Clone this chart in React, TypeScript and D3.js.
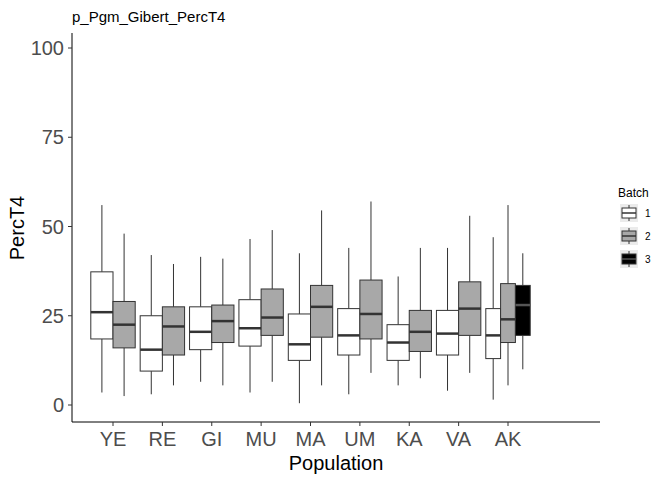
import React from "react";
import * as d3 from "d3";

const populations = ["YE", "RE", "GI", "MU", "MA", "UM", "KA", "VA", "AK"];
const batches = ["1", "2", "3"];
// [population, batch, lowWhisker, q1, median, q3, highWhisker]
const stats: [string, string, number, number, number, number, number][] = [
  ["YE", "1", 3.5, 18.5, 26, 37.3, 56],
  ["YE", "2", 2.5, 16, 22.5, 29, 48],
  ["RE", "1", 3, 9.5, 15.5, 25, 42],
  ["RE", "2", 5.5, 14, 22, 27.5, 39.5],
  ["GI", "1", 6.5, 15.5, 20.5, 27.5, 41.5],
  ["GI", "2", 5.5, 17.5, 23.5, 28, 41],
  ["MU", "1", 3.5, 16.5, 21.5, 29.5, 46.5],
  ["MU", "2", 6.5, 19.5, 24.5, 32.5, 49],
  ["MA", "1", 0.5, 12.5, 17, 25.5, 42.5],
  ["MA", "2", 5.5, 19, 27.5, 33.5, 54.5],
  ["UM", "1", 3, 14, 19.5, 27, 44],
  ["UM", "2", 9, 18.5, 25.5, 35, 57],
  ["KA", "1", 5.5, 12.5, 17.5, 22.5, 36],
  ["KA", "2", 7.5, 15, 20.5, 26.5, 44],
  ["VA", "1", 4, 14, 20, 26.5, 44],
  ["VA", "2", 9, 19.5, 27, 34.5, 53],
  ["AK", "1", 1.5, 13, 19.5, 27, 47],
  ["AK", "2", 5.5, 17.5, 24, 34, 56],
  ["AK", "3", 10, 19.5, 28, 33.5, 42.5],
];
const yTicks = [0, 25, 50, 75, 100];
const fills: Record<string, string> = { "1": "#ffffff", "2": "#a8a8a8", "3": "#000000" };

export default function App() {
  const x = d3.scalePoint<string>().domain(populations).range([113, 508]);
  const y = d3.scaleLinear().domain([0, 100]).range([405, 48]);
  const slot = 44.4;
  const tick = "#4d4d4d";

  return (
    <svg width={672} height={480} style={{ position: "absolute", left: 0, top: 0, fontFamily: "Liberation Sans, Arial, sans-serif" }}>
      <rect width={672} height={480} fill="#fff" />
      <text x={72} y={22} fontSize={15}>p_Pgm_Gibert_PercT4</text>
      {populations.map((p) => {
        const group = stats.filter((s) => s[0] === p);
        const w = slot / group.length;
        return group.map((s, i) => {
          const x0 = x(p)! - slot / 2 + i * w;
          const cx = x0 + w / 2;
          const [, b, lo, q1, med, q3, hi] = s;
          return (
            <g key={p + b}>
              <line x1={cx} x2={cx} y1={y(lo)} y2={y(q1)} stroke="#333" />
              <line x1={cx} x2={cx} y1={y(q3)} y2={y(hi)} stroke="#333" />
              <rect x={x0} y={y(q3)} width={w} height={y(q1) - y(q3)} fill={fills[b]} stroke="#333" />
              <line x1={x0} x2={x0 + w} y1={y(med)} y2={y(med)} stroke={b === "3" ? "#555" : "#333"} strokeWidth={2.5} />
            </g>
          );
        });
      })}
      <line x1={72} x2={72} y1={33} y2={422} stroke="#000" />
      <line x1={72} x2={600} y1={422} y2={422} stroke="#000" />
      {yTicks.map((t) => (
        <g key={t}>
          <line x1={68} x2={72} y1={y(t)} y2={y(t)} stroke="#333" />
          <text x={64} y={y(t) + 7} textAnchor="end" fontSize={20} fill={tick}>{t}</text>
        </g>
      ))}
      {populations.map((p) => (
        <g key={p}>
          <line x1={x(p)} x2={x(p)} y1={422} y2={426} stroke="#333" />
          <text x={x(p)} y={446} textAnchor="middle" fontSize={20} fill={tick}>{p}</text>
        </g>
      ))}
      <text x={336} y={470} textAnchor="middle" fontSize={20}>Population</text>
      <text transform="translate(24,228) rotate(-90)" textAnchor="middle" fontSize={20}>PercT4</text>
      <text x={618} y={197} fontSize={12}>Batch</text>
      {batches.map((b, i) => {
        const ky = 204 + i * 23;
        return (
          <g key={b}>
            <rect x={620} y={ky} width={18} height={18} fill="#ebebeb" />
            <line x1={629} x2={629} y1={ky + 1} y2={ky + 17} stroke="#333" />
            <rect x={622} y={ky + 4} width={14} height={10} fill={fills[b]} stroke="#333" />
            <line x1={622} x2={636} y1={ky + 9} y2={ky + 9} stroke={b === "3" ? "#555" : "#333"} strokeWidth={1.5} />
            <text x={645} y={ky + 13} fontSize={10}>{b}</text>
          </g>
        );
      })}
    </svg>
  );
}
